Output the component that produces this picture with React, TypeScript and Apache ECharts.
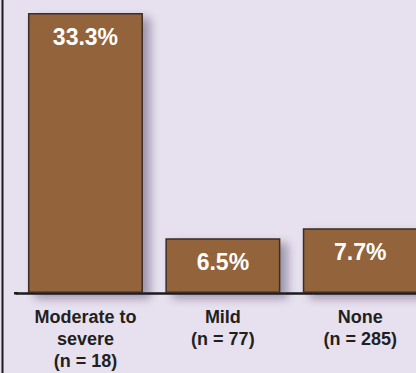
import React, { useEffect, useRef } from "react";
import * as echarts from "echarts";

const categories = ["Moderate to\nsevere\n(n = 18)", "Mild\n(n = 77)", "None\n(n = 285)"];
const values = [33.3, 6.5, 7.7];

export default function App() {
  const ref = useRef<HTMLDivElement>(null);
  useEffect(() => {
    const chart = echarts.init(ref.current!, null, { renderer: "svg" });
    chart.setOption({
      animation: false,
      backgroundColor: "#e7e1ef",
      grid: { left: 16.75, right: 0, top: 13, bottom: 80 },
      xAxis: {
        type: "category",
        data: categories,
        axisLine: { lineStyle: { color: "#1e1b1c", width: 2.5 } },
        axisTick: { show: false },
        axisLabel: {
          color: "#231f20",
          fontFamily: "Liberation Sans",
          fontWeight: "bold",
          fontSize: 18,
          lineHeight: 22,
          margin: 13,
          interval: 0,
        },
      },
      yAxis: { type: "value", min: 0, max: 33.3, show: false, splitLine: { show: false } },
      graphic: [
        { type: "rect", shape: { x: 1.5, y: 0, width: 2, height: 373 }, style: { fill: "#1e1b1c" } },
        { type: "rect", shape: { x: 14, y: 292, width: 4, height: 2.5 }, style: { fill: "#1e1b1c" } },
      ],
      series: [
        {
          type: "bar",
          data: values,
          barWidth: 115,
          itemStyle: {
            color: "#93633a",
            borderColor: "#3a2e26",
            borderWidth: 1.5,
            shadowColor: "rgba(40,30,60,0.4)",
            shadowBlur: 10,
            shadowOffsetX: 7,
            shadowOffsetY: 5,
          },
          label: {
            show: true,
            position: "insideTop",
            distance: 12,
            formatter: (p: any) => p.value.toFixed(1) + "%",
            color: "#ffffff",
            fontFamily: "Liberation Sans",
            fontWeight: "bold",
            fontSize: 23,
          },
        },
      ],
    });
    return () => chart.dispose();
  }, []);
  return (
    <div style={{ position: "fixed", left: 0, top: 0, width: 416, height: 373, overflow: "hidden" }}>
      <div ref={ref} style={{ width: 429, height: 373 }} />
    </div>
  );
}
